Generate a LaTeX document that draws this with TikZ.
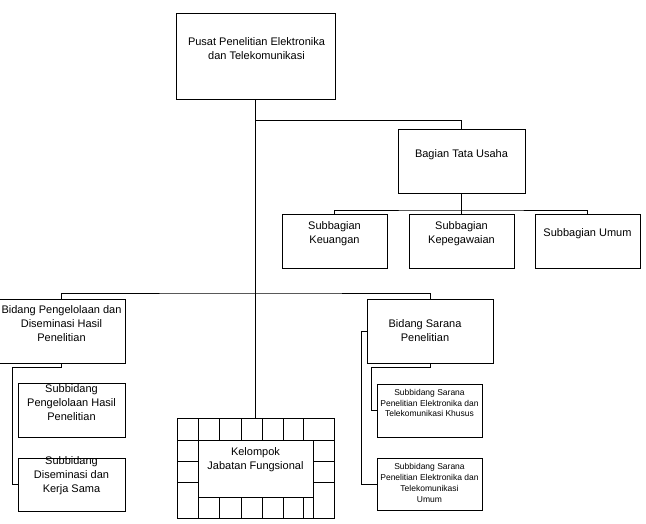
\documentclass[tikz,border=0pt]{standalone}
\usepackage{fontspec}
\setmainfont{Liberation Sans}
\usetikzlibrary{positioning}
\tikzset{
  orgbox/.style={draw=black,line width=0.9pt,rectangle,inner sep=0pt},
  boxsize/.style 2 args={minimum width=#1pt,minimum height=#2pt},
  boxtxt/.style={align=center,inner sep=0pt,font=\fontsize{11}{14}\selectfont},
  smalltxt/.style={align=center,inner sep=0pt,font=\fontsize{8.5}{10.7}\selectfont},
  orgline/.style={draw=black,line width=0.9pt},
  cellline/.style={draw=black,line width=0.9pt},
}

\begin{document}
\begin{tikzpicture}[x=1pt,y=-1pt]
  \useasboundingbox (0,0) rectangle (646,524);
  % boxes
  \node[orgbox,boxsize={159}{86}] (nPusat) at (255.5,56) {};
  \node[orgbox,boxsize={127}{64}] (nBagian) at (461.5,161) {};
  \node[orgbox,boxsize={105}{54}] (nKeuangan) at (334.5,241) {};
  \node[orgbox,boxsize={105}{54}] (nKepegawaian) at (461.5,241) {};
  \node[orgbox,boxsize={105}{54}] (nUmum) at (587.5,241) {};
  \node[orgbox,boxsize={127}{64}] (nPengelolaan) at (61.5,331) {};
  \node[orgbox,boxsize={107}{54}] (nHasil) at (71.5,410) {};
  \node[orgbox,boxsize={107}{53}] (nDiseminasi) at (71.5,484.5) {};
  \node[orgbox,boxsize={157}{100}] (nKelompok) at (255.5,468) {};
  \node[orgbox,boxsize={115}{57}] (nJabatan) at (255.5,468.5) {};
  \node[orgbox,boxsize={126}{64}] (nSarana) at (430,331) {};
  \node[orgbox,boxsize={105}{53}] (nKhusus) at (429.5,410.5) {};
  \node[orgbox,boxsize={105}{52}] (nSaranaUmum) at (429.5,484) {};
  % texts
  \node[boxtxt] (tPusat) at (256.5,49) {Pusat Penelitian Elektronika\\dan Telekomunikasi};
  \node[boxtxt] (tBagian) at (461.5,155) {Bagian Tata Usaha};
  \node[boxtxt] (tKeuangan) at (334.5,233.5) {Subbagian\\Keuangan};
  \node[boxtxt] (tKepegawaian) at (461.5,233.5) {Subbagian\\Kepegawaian};
  \node[boxtxt] (tUmum) at (587.5,234) {Subbagian Umum};
  \node[boxtxt] (tPengelolaan) at (61.5,324) {Bidang Pengelolaan dan\\Diseminasi Hasil\\Penelitian};
  \node[boxtxt] (tHasil) at (71.5,403) {Subbidang\\Pengelolaan Hasil\\Penelitian};
  \node[boxtxt] (tDiseminasi) at (71.5,476) {Subbidang\\Diseminasi dan\\Kerja Sama};
  \node[boxtxt] (tJabatan) at (255.5,460) {Kelompok\\Jabatan Fungsional};
  \node[boxtxt] (tSarana) at (425,331) {Bidang Sarana\\Penelitian};
  \node[smalltxt] (tKhusus) at (429.5,403) {Subbidang Sarana\\Penelitian Elektronika dan\\Telekomunikasi Khusus};
  \node[smalltxt] (tSaranaUmum) at (429.5,483) {Subbidang Sarana\\Penelitian Elektronika dan\\Telekomunikasi\\Umum};
  % cells round the Kelompok box
  \foreach \cx in {198,219,241,262,283,303}
    \draw[cellline] (\cx,418) -- (\cx,440);
  \foreach \cx in {198,219,241,262,283,303,313}
    \draw[cellline] (\cx,497) -- (\cx,518);
  \foreach \cy in {440,461,482} {
    \draw[cellline] (177,\cy) -- (198,\cy);
    \draw[cellline] (313,\cy) -- (334,\cy);
  }
  % connectors
  \coordinate (cTU) at (255.5,120);
  \coordinate (cSub) at (461.5,210);
  \coordinate (cBid) at (255.5,293);
  \draw[orgline] (nPusat.south) -- (nKelompok.north);
  \draw[orgline] (cTU) -| (nBagian.north);
  \draw[orgline] (nBagian.south) -- (cSub);
  \draw[orgline] (nKeuangan.north) |- (cSub) -| (nUmum.north);
  \draw[orgline] (cSub) -- (nKepegawaian.north);
  \draw[orgline] (nPengelolaan.north) |- (cBid) -| (nSarana.north);
  \draw[orgline] (nPengelolaan.south) -- ++(0,4) -| ([xshift=-5pt]nDiseminasi.west) -- (nDiseminasi.west);
  \draw[orgline] (nSarana.south) -- ++(0,4) -| ([xshift=-5pt]nKhusus.west) -- (nKhusus.west);
  \draw[orgline] (nSarana.west) -- ++(-5,0) |- (nSaranaUmum.west);
\end{tikzpicture}
\end{document}
